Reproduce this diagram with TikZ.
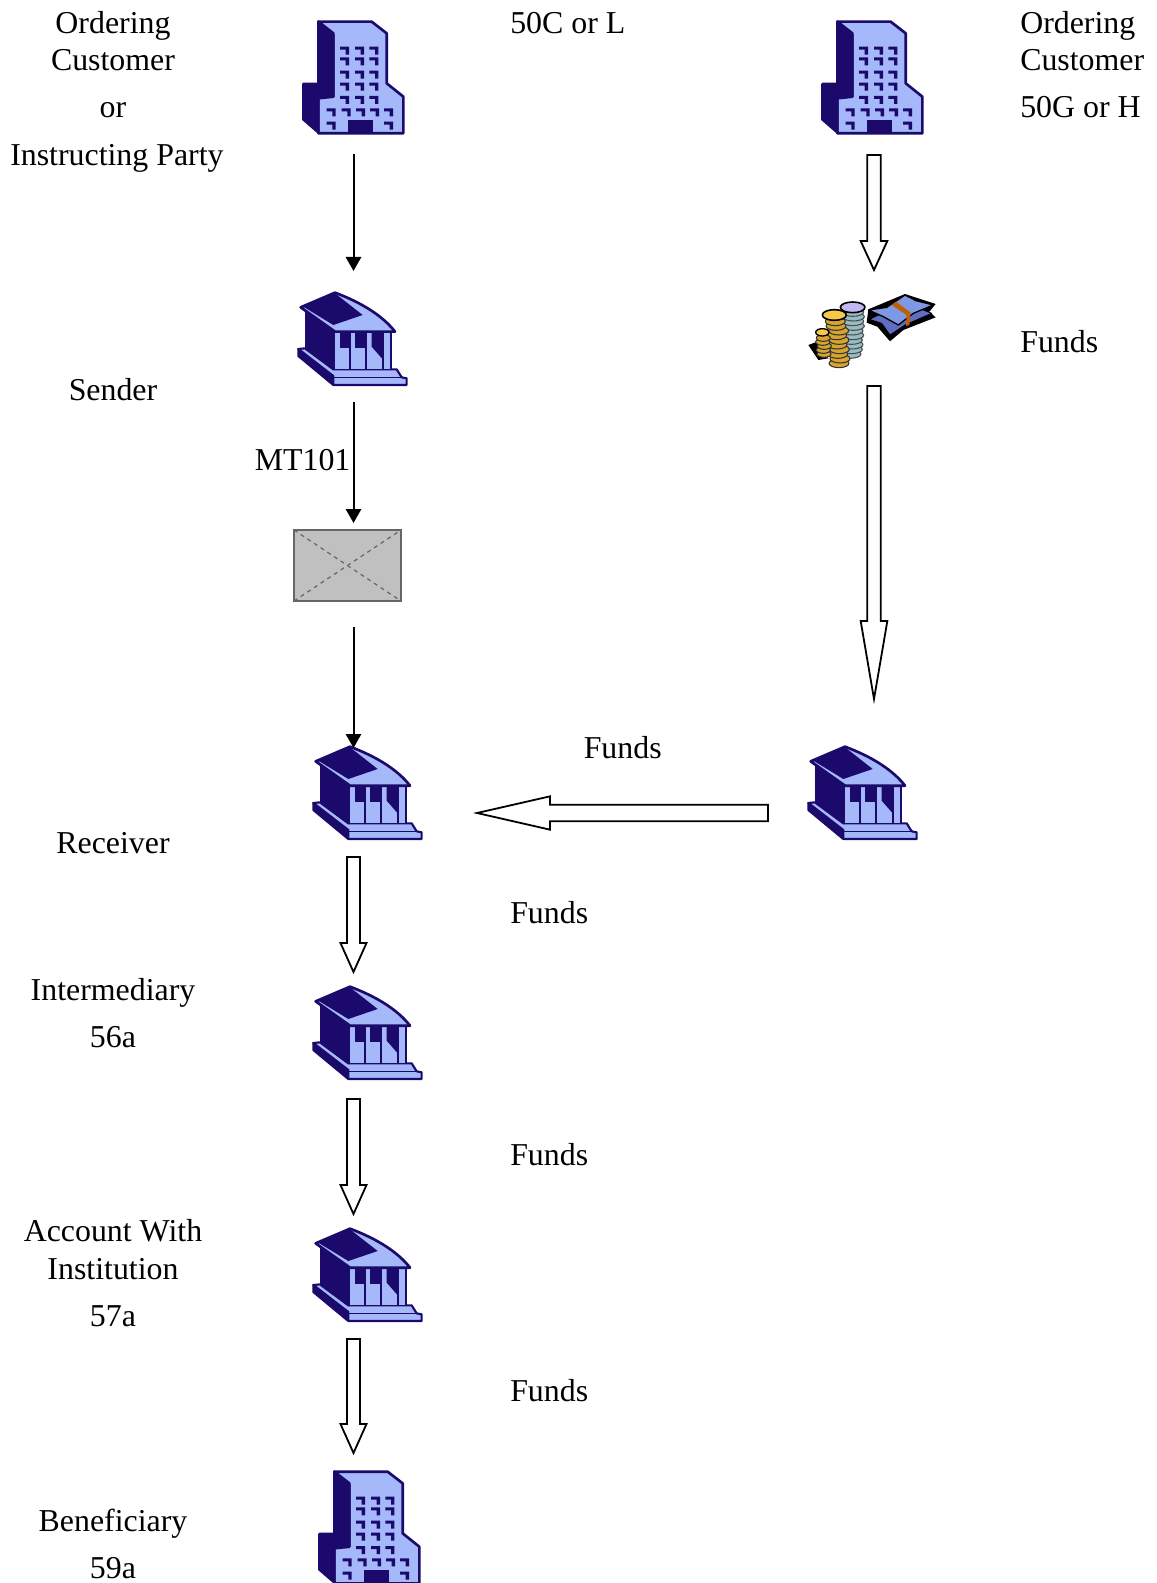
\documentclass[tikz,border=0pt]{standalone}
\usepackage{fontspec}
\setmainfont{Liberation Serif}
\usetikzlibrary{arrows.meta,calc,fit}
\definecolor{navy}{HTML}{1B0A6B}
\definecolor{pale}{HTML}{A5B8FA}
\definecolor{boxgrey}{HTML}{C0C0C0}
\definecolor{gold}{HTML}{D8A430}
\definecolor{goldtop}{HTML}{F8C848}
\definecolor{silver}{HTML}{98BCC4}
\definecolor{lilac}{HTML}{C4B8F0}
\definecolor{note}{HTML}{7F98E4}
\tikzset{
  lab/.style={font=\fontsize{23.9}{28}\selectfont,inner sep=0pt,anchor=base},
  labw/.style={lab,anchor=base west},
  spot/.style={inner sep=0pt,outer sep=0pt},
  flow/.style={line width=1.5pt,-{Triangle[length=10.5pt,width=11.5pt]}},
  hollow/.style n args={3}{line width=1.35pt,miter limit=10,to path={
    -- ($(\tikztostart)!#2!90:(\tikztotarget)$)
    -- ($($(\tikztotarget)!#1!(\tikztostart)$)!#2!90:(\tikztotarget)$)
    -- ($($(\tikztotarget)!#1!(\tikztostart)$)!#3!90:(\tikztotarget)$)
    -- (\tikztotarget)
    -- ($($(\tikztotarget)!#1!(\tikztostart)$)!#3!-90:(\tikztotarget)$)
    -- ($($(\tikztotarget)!#1!(\tikztostart)$)!#2!-90:(\tikztotarget)$)
    -- ($(\tikztostart)!#2!-90:(\tikztotarget)$) -- cycle}},
  office/.pic={
    \begin{scope}[scale=1/3,line join=round]
    \draw[fill=pale,draw=navy,line width=2pt] (115,65) -- (275,65) -- (320,100) -- (320,250) -- (370,290) -- (370,400) -- (115,400) -- (115,290) -- (160,290) -- (160,100) -- cycle;
    \draw[fill=navy,draw=navy,line width=2pt] (115,65) -- (160,105) -- (160,290) -- (115,295) -- (115,397) -- (70,358) -- (70,252) -- (115,252) -- cycle;
    \fill[navy] (205,360) rectangle (278,400);
    \foreach \wx/\wy in {180/140,225/140,268/140,180/172,225/172,268/172,180/212,225/212,268/212,180/248,225/248,268/248,180/288,225/288,268/288,140/325,185/325,228/325,270/325,312/325,140/365,312/365}
      \fill[navy] (\wx,\wy) -- ++(27,0) -- ++(0,24) -- ++(-10,0) -- ++(0,-15) -- ++(-17,0) -- cycle;
    \end{scope}},
  bank/.pic={
    \begin{scope}[scale=1/3,line join=round]
    \draw[fill=navy,draw=navy,line width=1.6pt] (55,207) -- (160,288) -- (160,315) -- (55,228) -- cycle;
    \draw[fill=pale,draw=navy,line width=1.6pt] (55,207) -- (75,205) -- (160,268) -- (350,268) -- (365,292) -- (380,295) -- (380,315) -- (160,315) -- (160,288) -- cycle;
    \draw[navy,line width=1.1pt] (160,293) -- (365,293);
    \fill[navy] (75,95) -- (165,155) -- (165,270) -- (160,270) -- (75,205) -- cycle;
    \fill[pale] (165,155) rectangle (332,268);
    \fill[navy] (180,158) rectangle (210,205);
    \fill[navy] (225,158) rectangle (258,205);
    \fill[navy] (275,158) -- (310,158) -- (310,240) -- (275,200) -- cycle;
    \foreach \px in {209,257,309,332}
      \draw[navy,line width=1.6pt] (\px,158) -- (\px,266);
    \draw[fill=pale,draw=navy,line width=2pt] (62,82) -- (165,38) .. controls (250,70) and (310,110) .. (345,155) -- (165,155) -- cycle;
    \fill[navy] (70,80) -- (165,40) -- (248,105) -- (160,135) -- cycle;
    \end{scope}},
  money/.pic={
    \begin{scope}[scale=1/3,line join=round]
    \fill[black] (55,195) -- (82,185) -- (115,235) -- (85,240) -- cycle;
    \foreach \cy/\cx in {222/180,208/184,194/186,180/184,166/188,152/186,138/190,124/188,110/190,96/188}
      \draw[fill=silver,draw=black!70,line width=.8pt] (\cx,\cy) ellipse (33 and 13);
    \draw[fill=lilac,draw=black,line width=1.2pt] (188,82) ellipse (37 and 16);
    \foreach \cy/\cx in {250/147,236/150,222/143,208/148,194/141,180/147,166/140,152/146,138/138,124/136}
      \draw[fill=gold,draw=black!80,line width=.8pt] (\cx,\cy) ellipse (30 and 13);
    \draw[fill=goldtop,draw=black,line width=1.2pt] (133,105) ellipse (36 and 16);
    \foreach \cy/\cx in {222/102,210/100,198/103,186/98,174/100}
      \draw[fill=gold,draw=black!80,line width=.8pt] (\cx,\cy) ellipse (21 and 10);
    \draw[fill=goldtop,draw=black,line width=1pt] (97,157) ellipse (20 and 11);
    \fill[black] (230,128) -- (262,140) -- (300,184) -- (340,150) -- (437,112) -- (418,95) -- (437,72) -- (345,42) -- (235,88) -- cycle;
    \draw[fill=note!70!navy,draw=black,line width=.6pt] (238,118) -- (275,130) -- (300,165) -- (345,135) -- (425,100) -- (345,68) -- cycle;
    \draw[fill=note,draw=black,line width=1pt] (235,90) -- (290,82) -- (345,45) -- (378,62) -- (430,75) -- (370,100) -- (325,135) -- (280,110) -- cycle;
    \fill[orange!75!black] (305,75) -- (318,65) -- (362,98) -- (358,135) -- (348,138) -- (350,105) -- cycle;
    \end{scope}}
}
\begin{document}
\begin{tikzpicture}[x=.75pt,y=-.75pt]
\useasboundingbox (0,0) rectangle (1156,1583);
\pic at (280,0) {office};
\pic at (799,0) {office};
\pic at (296,1450) {office};
\foreach \bx/\by in {280/280,295/734,295/974,295/1216,790/734} \pic at (\bx,\by) {bank};
\pic at (790,280) {money};
% invisible spots, one gap of the chain to the next
\node[spot,fit={(340,0) (367,154)}] (orderLeft) {};
\node[spot,fit={(340,271) (367,402)}] (sender) {};
\node[spot,fit={(340,523) (367,627)}] (msgSpot) {};
\node[spot,fit={(340,748) (367,857)}] (receiver) {};
\node[spot,fit={(340,972) (367,1099)}] (intermediary) {};
\node[spot,fit={(340,1214) (367,1339)}] (institution) {};
\node[spot,fit={(340,1453) (367,1583)}] (beneficiary) {};
\node[spot,fit={(860,0) (888,155)}] (orderRight) {};
\node[spot,fit={(860,270) (888,386)}] (funds) {};
\node[spot,fit={(860,699) (888,800)}] (fundsBank) {};
\coordinate (bankOut) at (768,813);
\coordinate (bankIn) at (477,813);
% message box
\node[spot,draw=black!60,fill=boxgrey,line width=1pt,fit={(294,530) (401,601)}] (msg) {};
\draw[black!60,dashed,line width=.9pt] (msg.north west) -- (msg.south east);
\draw[black!60,dashed,line width=.9pt] (msg.south west) -- (msg.north east);
% connectors
\draw[flow] (orderLeft.south) -- (sender.north);
\draw[flow] (sender.south) -- (msgSpot.north);
\draw[flow] (msgSpot.south) -- (receiver.north);
\draw[hollow={21.75pt}{5pt}{10pt}] (orderRight.south) to (funds.north);
\draw[hollow={58.5pt}{5pt}{10pt}] (funds.south) to (fundsBank.north);
\draw[hollow={54.75pt}{6.2pt}{12.5pt}] (bankOut) to (bankIn);
\draw[hollow={21.75pt}{4.9pt}{9.75pt}] (receiver.south) to (intermediary.north);
\draw[hollow={21.75pt}{4.9pt}{9.75pt}] (intermediary.south) to (institution.north);
\draw[hollow={21.75pt}{4.9pt}{9.75pt}] (institution.south) to (beneficiary.north);
% labels
\node[lab] (l1) at (113,34) {Ordering};
\node[lab] (l2) at (113,71) {Customer};
\node[lab] (l3) at (113,118) {or};
\node[labw] (l4) at (10,166) {Instructing Party};
\node[labw] (l5) at (510,34) {50C or L};
\node[labw] (r1) at (1020,34) {Ordering};
\node[labw] (r2) at (1020,71) {Customer};
\node[labw] (r3) at (1020,118) {50G or H};
\node[labw] (r4) at (1020,352) {Funds};
\node[lab] (l6) at (113,400) {Sender};
\node[labw] (l7) at (254.5,470) {MT101};
\node[labw] (m1) at (583.5,758) {Funds};
\node[lab] (l8) at (113,853) {Receiver};
\node[labw] (m2) at (510,923) {Funds};
\node[lab] (l9) at (113,1000) {Intermediary};
\node[lab] (l10) at (113,1047) {56a};
\node[labw] (m3) at (510,1165) {Funds};
\node[lab] (l11) at (113,1241) {Account With};
\node[lab] (l12) at (113,1279) {Institution};
\node[lab] (l13) at (113,1326) {57a};
\node[labw] (m4) at (510,1401) {Funds};
\node[lab] (l14) at (113,1531) {Beneficiary};
\node[lab] (l15) at (113,1578) {59a};
\end{tikzpicture}
\end{document}
